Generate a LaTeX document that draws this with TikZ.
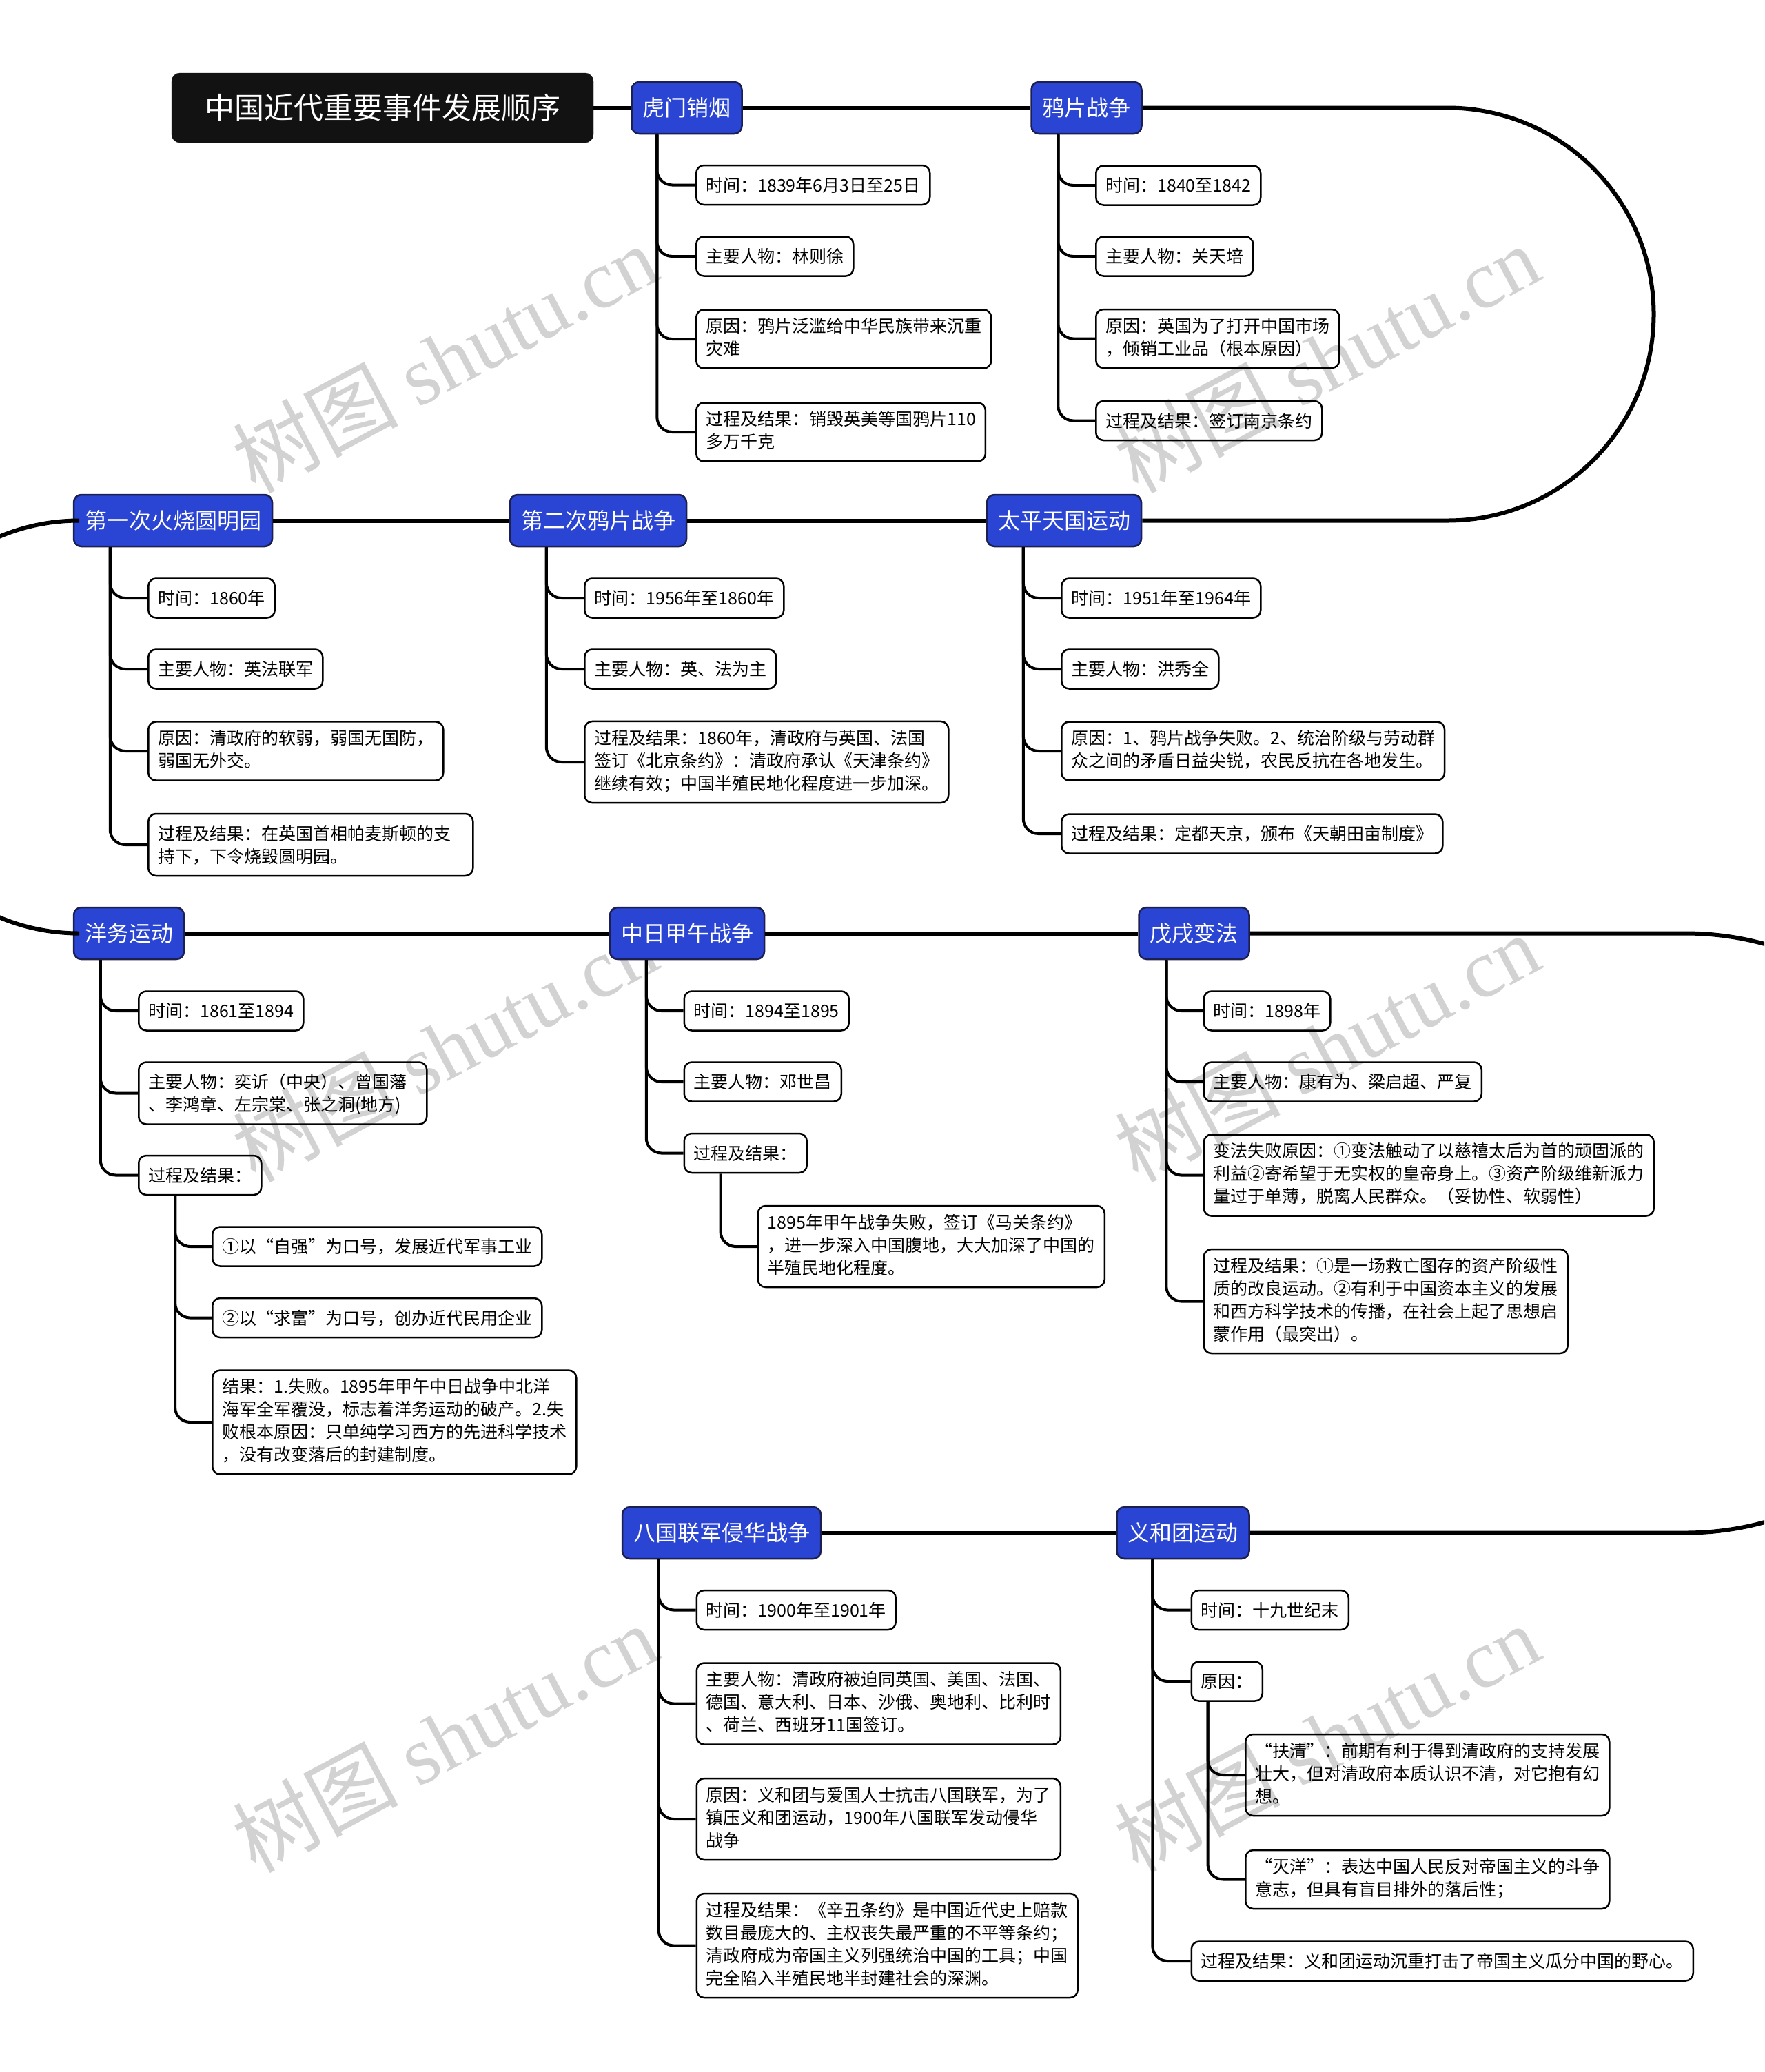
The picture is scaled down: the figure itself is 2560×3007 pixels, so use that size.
\documentclass[tikz,border=0pt]{standalone}
\usepackage{fontspec}
\setmainfont{Noto Sans CJK SC}
\newfontfamily\wmlatin{Liberation Serif}
\definecolor{mainblue}{HTML}{2A44D4}
\definecolor{topicborder}{HTML}{1C2050}
\definecolor{wmgray}{HTML}{D2D2D2}
\newcommand\cstrut{\rule[-6.8pt]{0pt}{33pt}}
\newcommand\br[3]{\draw[branch] ([xshift=#2pt]#1.south west) |- (#3.west);}
\tikzset{
  mainline/.style={line width=6pt, black},
  branch/.style={line width=4pt, black, rounded corners=22pt},
  topic/.style={draw=topicborder, line width=2.5pt, fill=mainblue, text=white,
    rounded corners=11pt, font=\fontsize{32}{38}\selectfont,
    inner xsep=16pt, inner ysep=0pt, minimum height=75pt},
  leaf/.style={draw=black, line width=2.5pt, rounded corners=11pt,
    font=\fontsize{25}{33}\selectfont, align=left, inner xsep=14pt, inner ysep=12pt,
    anchor=west, execute at begin node=\cstrut, execute at end node=\cstrut},
  titlebox/.style={fill=black!93, draw=black!93, text=white, rounded corners=12pt,
    font=\fontsize{43}{50}\selectfont, minimum width=612pt, minimum height=101pt},
  wm/.style={text=wmgray, rotate=28, font=\fontsize{120}{130}\selectfont}
}
\begin{document}
\begin{tikzpicture}[x=1pt,y=-1pt]
\useasboundingbox (0,0) rectangle (2560,3007);
\clip (0,0) rectangle (2560,3007);
\fill[white] (0,0) rectangle (2560,3007);

% ---------- watermark (behind everything) ----------
\node[wm] (w1) at (645,520) {树图 {\wmlatin shutu.cn}};
\node[wm] (w2) at (1925,520) {树图 {\wmlatin shutu.cn}};
\node[wm] (w3) at (645,1520) {树图 {\wmlatin shutu.cn}};
\node[wm] (w4) at (1925,1520) {树图 {\wmlatin shutu.cn}};
\node[wm] (w5) at (645,2522) {树图 {\wmlatin shutu.cn}};
\node[wm] (w6) at (1925,2522) {树图 {\wmlatin shutu.cn}};

% ---------- main topics ----------
\node[titlebox] (title) at (555,156.5) {中国近代重要事件发展顺序};
\node[topic] (hm) at (996.5,156.5) {虎门销烟};
\node[topic] (yp) at (1576.5,156.5) {鸦片战争};
\node[topic] (dyc) at (251,755.5) {第一次火烧圆明园};
\node[topic] (dec) at (868,755.5) {第二次鸦片战争};
\node[topic] (tp) at (1544,755.5) {太平天国运动};
\node[topic] (yw) at (187,1354.5) {洋务运动};
\node[topic] (zr) at (997,1354.5) {中日甲午战争};
\node[topic] (ws) at (1732.5,1354.5) {戊戌变法};
\node[topic] (bg) at (1047,2224.5) {八国联军侵华战争};
\node[topic] (yh) at (1716.5,2224.5) {义和团运动};

\coordinate (t1a) at (2100,156.5);
\coordinate (t1b) at (2100,755.5);
\coordinate (t2a) at (115,755.5);
\coordinate (t2b) at (115,1354.5);
\coordinate (t3a) at (2445,1354.5);
\coordinate (t3b) at (2445,2224.5);

\draw[mainline] (title.east) -- (hm.west);
\draw[mainline] (hm.east) -- (yp.west);
\draw[mainline] (yp.east) -- (t1a) .. controls (2265.4,156.5) and (2399.5,290.6) .. (2399.5,456)
   .. controls (2399.5,621.4) and (2265.4,755.5) .. (t1b) -- (tp.east);
\draw[mainline] (tp.west) -- (dec.east);
\draw[mainline] (dec.west) -- (dyc.east);
\draw[mainline] (dyc.west) -- (t2a) .. controls (-50.4,755.5) and (-184.5,889.6) .. (-184.5,1055)
   .. controls (-184.5,1220.4) and (-50.4,1354.5) .. (t2b) -- (yw.west);
\draw[mainline] (yw.east) -- (zr.west);
\draw[mainline] (zr.east) -- (ws.west);
\draw[mainline] (ws.east) -- (t3a) .. controls (2685.3,1354.5) and (2880,1549.2) .. (2880,1789.5)
   .. controls (2880,2029.8) and (2685.3,2224.5) .. (t3b) -- (yh.east);
\draw[mainline] (yh.west) -- (bg.east);

% ---------- 虎门销烟 ----------
\node[leaf] (hm1) at (1009,268.5) {时间：1839年6月3日至25日};
\node[leaf] (hm2) at (1009,372) {主要人物：林则徐};
\node[leaf] (hm3) at (1009,492) {原因：鸦片泛滥给中华民族带来沉重\\灾难};
\node[leaf] (hm4) at (1009,627) {过程及结果：销毁英美等国鸦片110\\多万千克};
\br{hm}{38}{hm1} \br{hm}{38}{hm2} \br{hm}{38}{hm3} \br{hm}{38}{hm4}

% ---------- 鸦片战争 ----------
\node[leaf] (yp1) at (1589,269) {时间：1840至1842};
\node[leaf] (yp2) at (1589,372) {主要人物：关天培};
\node[leaf] (yp3) at (1589,491.5) {原因：英国为了打开中国市场\\，倾销工业品（根本原因）};
\node[leaf] (yp4) at (1589,610.5) {过程及结果：签订南京条约};
\br{yp}{40}{yp1} \br{yp}{40}{yp2} \br{yp}{40}{yp3} \br{yp}{40}{yp4}

% ---------- 第一次火烧圆明园 ----------
\node[leaf] (dyc1) at (214,868) {时间：1860年};
\node[leaf] (dyc2) at (214,971) {主要人物：英法联军};
\node[leaf] (dyc3) at (214,1090) {原因：清政府的软弱，弱国无国防，\\弱国无外交。};
\node[leaf, text width=443pt] (dyc4) at (214,1226) {过程及结果：在英国首相帕麦斯顿的支\\持下，下令烧毁圆明园。};
\br{dyc}{54}{dyc1} \br{dyc}{54}{dyc2} \br{dyc}{54}{dyc3} \br{dyc}{54}{dyc4}

% ---------- 第二次鸦片战争 ----------
\node[leaf] (dec1) at (847,868) {时间：1956年至1860年};
\node[leaf] (dec2) at (847,971) {主要人物：英、法为主};
\node[leaf] (dec3) at (847,1106) {过程及结果：1860年，清政府与英国、法国\\签订《北京条约》：清政府承认《天津条约》\\继续有效；中国半殖民地化程度进一步加深。};
\br{dec}{54}{dec1} \br{dec}{54}{dec2} \br{dec}{54}{dec3}

% ---------- 太平天国运动 ----------
\node[leaf] (tp1) at (1539,868) {时间：1951年至1964年};
\node[leaf] (tp2) at (1539,971) {主要人物：洪秀全};
\node[leaf] (tp3) at (1539,1090) {原因：1、鸦片战争失败。2、统治阶级与劳动群\\众之间的矛盾日益尖锐，农民反抗在各地发生。};
\node[leaf] (tp4) at (1539,1210) {过程及结果：定都天京，颁布《天朝田亩制度》};
\br{tp}{54}{tp1} \br{tp}{54}{tp2} \br{tp}{54}{tp3} \br{tp}{54}{tp4}

% ---------- 洋务运动 ----------
\node[leaf] (yw1) at (200,1467) {时间：1861至1894};
\node[leaf, text width=390pt] (yw2) at (200,1586.5) {主要人物：奕䜣（中央）、曾国藩\\、李鸿章、左宗棠、张之洞(地方)};
\node[leaf] (yw3) at (200,1705.5) {过程及结果：};
\br{yw}{40}{yw1} \br{yw}{40}{yw2} \br{yw}{40}{yw3}
\node[leaf] (yw31) at (307,1809) {①以“自强”为口号，发展近代军事工业};
\node[leaf] (yw32) at (307,1912.5) {②以“求富”为口号，创办近代民用企业};
\node[leaf] (yw33) at (307,2064) {结果：1.失败。1895年甲午中日战争中北洋\\海军全军覆没，标志着洋务运动的破产。2.失\\败根本原因：只单纯学习西方的先进科学技术\\，没有改变落后的封建制度。};
\br{yw3}{54}{yw31} \br{yw3}{54}{yw32} \br{yw3}{54}{yw33}

% ---------- 中日甲午战争 ----------
\node[leaf] (zr1) at (991.5,1467) {时间：1894至1895};
\node[leaf] (zr2) at (991.5,1570) {主要人物：邓世昌};
\node[leaf] (zr3) at (991.5,1673.5) {过程及结果：};
\br{zr}{54}{zr1} \br{zr}{54}{zr2} \br{zr}{54}{zr3}
\node[leaf] (zr31) at (1098.5,1809) {1895年甲午战争失败，签订《马关条约》\\，进一步深入中国腹地，大大加深了中国的\\半殖民地化程度。};
\br{zr3}{54}{zr31}

% ---------- 戊戌变法 ----------
\node[leaf] (ws1) at (1745.5,1467) {时间：1898年};
\node[leaf] (ws2) at (1745.5,1570) {主要人物：康有为、梁启超、严复};
\node[leaf] (ws3) at (1745.5,1705.5) {变法失败原因：①变法触动了以慈禧太后为首的顽固派的\\利益②寄希望于无实权的皇帝身上。③资产阶级维新派力\\量过于单薄，脱离人民群众。（妥协性、软弱性）};
\node[leaf] (ws4) at (1745.5,1888.5) {过程及结果：①是一场救亡图存的资产阶级性\\质的改良运动。②有利于中国资本主义的发展\\和西方科学技术的传播，在社会上起了思想启\\蒙作用（最突出）。};
\br{ws}{41}{ws1} \br{ws}{41}{ws2} \br{ws}{41}{ws3} \br{ws}{41}{ws4}

% ---------- 八国联军侵华战争 ----------
\node[leaf] (bg1) at (1009.5,2336.5) {时间：1900年至1901年};
\node[leaf] (bg2) at (1009.5,2472.5) {主要人物：清政府被迫同英国、美国、法国、\\德国、意大利、日本、沙俄、奥地利、比利时\\、荷兰、西班牙11国签订。};
\node[leaf] (bg3) at (1009.5,2640) {原因：义和团与爱国人士抗击八国联军，为了\\镇压义和团运动，1900年八国联军发动侵华\\战争};
\node[leaf] (bg4) at (1009.5,2823.5) {过程及结果：《辛丑条约》是中国近代史上赔款\\数目最庞大的、主权丧失最严重的不平等条约；\\清政府成为帝国主义列强统治中国的工具；中国\\完全陷入半殖民地半封建社会的深渊。};
\br{bg}{54}{bg1} \br{bg}{54}{bg2} \br{bg}{54}{bg3} \br{bg}{54}{bg4}

% ---------- 义和团运动 ----------
\node[leaf] (yh1) at (1727.5,2336.5) {时间：十九世纪末};
\node[leaf] (yh2) at (1727.5,2440) {原因：};
\node[leaf] (yh3) at (1727.5,2846) {过程及结果：义和团运动沉重打击了帝国主义瓜分中国的野心。};
\br{yh}{53}{yh1} \br{yh}{53}{yh2} \br{yh}{53}{yh3}
\node[leaf] (yh21) at (1806,2576) {“扶清”：前期有利于得到清政府的支持发展\\壮大，但对清政府本质认识不清，对它抱有幻\\想。};
\node[leaf] (yh22) at (1806,2727.5) {“灭洋”：表达中国人民反对帝国主义的斗争\\意志，但具有盲目排外的落后性；};
\br{yh2}{25}{yh21} \br{yh2}{25}{yh22}
\end{tikzpicture}
\end{document}
